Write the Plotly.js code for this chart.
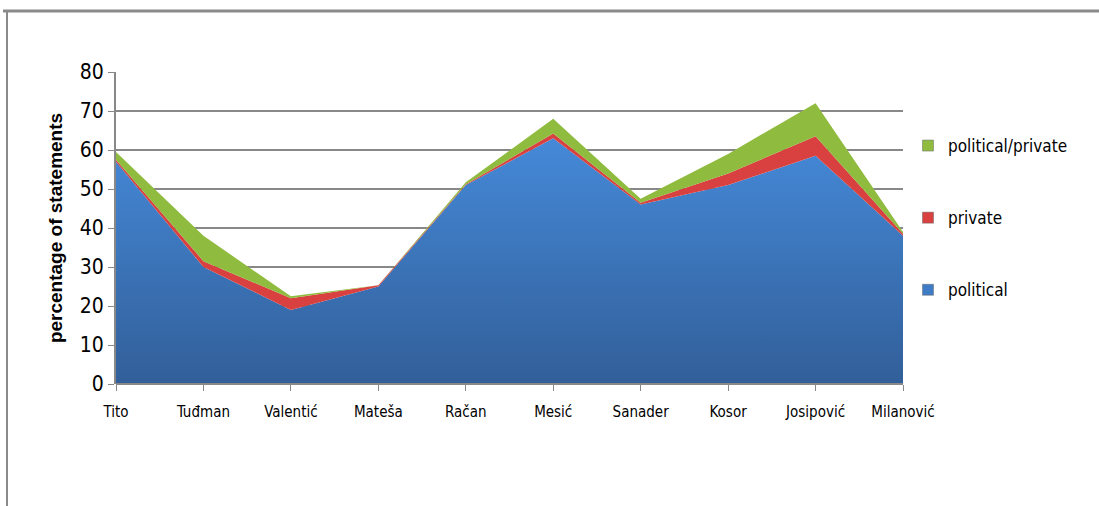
<!DOCTYPE html>
<html>
<head>
<meta charset="utf-8">
<script src="https://cdn.plot.ly/plotly-3.0.1.min.js"></script>
<style>html,body{margin:0;padding:0;background:#fff;}#chart{width:1099px;height:506px;}</style>
</head>
<body>
<div id="chart"></div>
<script>
const categories = ["Tito","Tuđman","Valentić","Mateša","Račan","Mesić","Sanader","Kosor","Josipović","Milanović"];
const political = [57, 30, 19, 25, 51, 63, 46, 51, 58.5, 38];
const privateVals = [0.5, 1.5, 3, 0.3, 0.2, 1.2, 0.5, 3, 5, 0.5];
const politicalPrivate = [2, 6.5, 0.5, 0, 0.5, 3.8, 1, 5, 8.5, 0.5];
const seriesNames = ["political", "private", "political/private"];
const yTicks = [0,10,20,30,40,50,60,70,80];

const fontNarrow = "'DejaVu Sans Condensed', 'Liberation Sans Narrow', Arial, sans-serif";
const colors = ["#3f7cc6", "#d8413f", "#8fbb3f"];
const series = [political, privateVals, politicalPrivate];

const traces = series.map((vals, i) => {
  const t = {name:seriesNames[i], x:categories, y:vals, stackgroup:"one", mode:"none",
    fillcolor:colors[i], showlegend:false};
  if (i === 0) t.fillgradient = {type:"vertical", colorscale:[[0,"#325f99"],[1,"#4589d8"]]};
  return t;
});
// legend entries with square swatches, listed top to bottom
[2,1,0].forEach((i, k) => {
  traces.push({name:seriesNames[i], x:[null], y:[null], type:"scatter", mode:"markers",
    marker:{symbol:"square", size:11, color:colors[i], line:{color:"#666", width:0.5}},
    legendgroup:"g"+k, showlegend:true});
});

const L = 116, R = 903, T = 72, B = 384;
const px = v => (v - L) / (R - L);
const py = v => (B - v) / (B - T);

const layout = {
  width:1099, height:506,
  margin:{l:L, r:1099-R, t:T, b:506-B},
  paper_bgcolor:"#fff", plot_bgcolor:"#fff",
  showlegend:true,
  legend:{x:px(908), y:py(128), xanchor:"left", yanchor:"top",
    traceorder:"grouped", tracegroupgap:47, itemwidth:30,
    font:{family:fontNarrow, size:17, color:"#000"}},
  xaxis:{type:"category", range:[0,9], showgrid:false, zeroline:false,
    showline:false, ticks:"outside", ticklen:6, tickcolor:"#888", ticklabelstandoff:8,
    tickfont:{family:fontNarrow, size:15, color:"#000"}},
  yaxis:{range:[0,80], tickvals:yTicks, showgrid:true, gridcolor:"#888", gridwidth:2,
    zeroline:false, showline:true, linecolor:"#888", linewidth:2,
    ticks:"outside", ticklen:6, tickcolor:"#888",
    tickfont:{family:fontNarrow, size:21, color:"#000"},
    title:{text:"percentage of statements", standoff:12,
      font:{family:"'Liberation Sans', Arial, sans-serif", size:19, color:"#000", weight:"bold"}}},
  shapes:[
    {type:"line", xref:"paper", yref:"paper", x0:px(3), x1:px(1099), y0:py(11), y1:py(11),
     line:{color:"#8a8a8a", width:3}},
    {type:"line", xref:"paper", yref:"paper", x0:px(7), x1:px(7), y0:py(11), y1:py(506),
     line:{color:"#8a8a8a", width:2}},
    {type:"line", xref:"paper", yref:"paper", x0:0, x1:1, y0:0, y1:0,
     line:{color:"#888", width:2}}
  ]
};

Plotly.newPlot("chart", traces, layout, {displayModeBar:false, staticPlot:true});
</script>
</body>
</html>
